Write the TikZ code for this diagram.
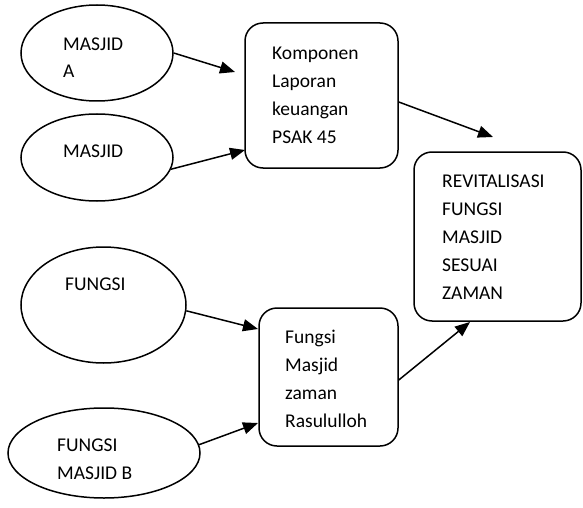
\documentclass[tikz,border=0pt]{standalone}
\usepackage{fontspec}
\setmainfont{Carlito}
\usetikzlibrary{arrows.meta,shapes.geometric}
\begin{document}
\begin{tikzpicture}[x=1pt,y=-1pt,
  oval/.style={draw,line width=1.5pt,ellipse,inner sep=0pt},
  rbox/.style={draw,line width=1.5pt,rectangle,rounded corners=18pt,inner sep=0pt},
  txt/.style={anchor=base west,inner sep=0pt,align=left,font=\fontsize{19.5}{27.8}\selectfont},
  arr/.style={line width=1.5pt,-{Triangle[length=15pt,width=12pt]}}]
\useasboundingbox (0,0) rectangle (583,508);
% shapes
\node[oval,minimum width=152pt,minimum height=96pt] (e1) at (97,53) {};
\node[oval,minimum width=152pt,minimum height=87pt] (e2) at (97,157.5) {};
\node[oval,minimum width=165pt,minimum height=116pt] (e3) at (103.5,305) {};
\node[oval,minimum width=192pt,minimum height=90pt] (e4) at (104,453) {};
\node[rbox,minimum width=153pt,minimum height=145pt] (r1) at (321.5,95.5) {};
\node[rbox,minimum width=139pt,minimum height=138pt] (r2) at (328.5,377) {};
\node[rbox,minimum width=167pt,minimum height=169pt] (r3) at (497.5,236.5) {};
% texts (anchor = baseline of last line)
\node[txt] (t1) at (63,78) {MASJID\\A};
\node[txt] (t2) at (63,157) {MASJID};
\node[txt] (t3) at (65,290) {FUNGSI};
\node[txt] (t4) at (57,479) {FUNGSI\\MASJID B};
\node[txt] (t5) at (272,143) {Komponen\\Laporan\\keuangan\\PSAK 45};
\node[txt] (t6) at (285,427) {Fungsi\\Masjid\\zaman\\Rasululloh};
\node[txt] (t7) at (442,299) {REVITALISASI\\FUNGSI\\MASJID\\SESUAI\\ZAMAN};
% arrow ends
\coordinate (p1) at (235,72);
\coordinate (p2) at (245,150);
\coordinate (p3) at (258,329);
\coordinate (p4) at (258,423);
\coordinate (p5) at (493,137);
\coordinate (p6) at (470,322);
\draw[arr] (e1.east) -- (p1);
\draw[arr] (e2.-9) -- (p2);
\draw[arr] (e3.-4) -- (p3);
\draw[arr] (e4.5) -- (p4);
\draw[arr] (r1.east |- 0,102) -- (p5);
\draw[arr] (r2.east |- 0,380) -- (p6);
\end{tikzpicture}
\end{document}
